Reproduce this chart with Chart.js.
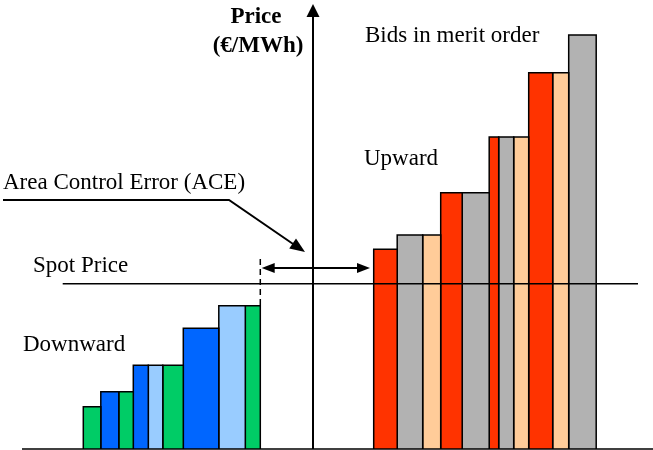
<!DOCTYPE html>
<html>
<head>
<meta charset="utf-8">
<script src="https://cdn.jsdelivr.net/npm/chart.js@4"></script>
<style>
  body { margin: 0; background: #fff; }
  #wrap { width: 653px; height: 450px; }
</style>
</head>
<body>
<div id="wrap"><canvas id="grafico"></canvas></div>
<script>
// Dados - lances (largura = volume, altura = preço), da esquerda para a direita
const downVolumes = [17.5, 18, 14.5, 15, 14.5, 20.5, 35.5, 26.5, 15];
const downPrices = [42.3, 57.3, 57.3, 83.7, 83.7, 83.7, 120.7, 143.3, 143.3];
const upVolumes = [23.5, 25.5, 18, 21.5, 27, 9.5, 15, 15, 24, 16, 27.5];
const upPrices = [199.7, 214, 214, 256.3, 256.3, 312, 312, 312, 376.3, 376.3, 414];
const spotPrice = 165.3;
const downEnd = -52.7;   // fim dos lances "Downward" (linha tracejada)
const upStart = 60.7;    // início dos lances "Upward"

// cores
const downColors = ['#00CC66', '#0066FF', '#00CC66', '#0066FF', '#99CCFF', '#00CC66', '#0066FF', '#99CCFF', '#00CC66'];
const upColors = ['#FF3300', '#B2B2B2', '#FFCC99', '#FF3300', '#B2B2B2', '#FF3300', '#B2B2B2', '#FFCC99', '#FF3300', '#FFCC99', '#B2B2B2'];

// monta um retangulo (barra) como poligono sobre as escalas
function barra(x0, largura, preco, cor) {
  return {
    data: [{ x: x0, y: 0 }, { x: x0, y: preco }, { x: x0 + largura, y: preco }, { x: x0 + largura, y: 0 }],
    backgroundColor: cor,
    borderColor: '#000',
    borderWidth: 1.5,
    fill: 'origin',
    pointRadius: 0,
    tension: 0,
    order: 2
  };
}

let datasets = [];

let totalDown = downVolumes.reduce((a, b) => a + b, 0);
let pos = downEnd - totalDown;
for (var i = 0; i < downVolumes.length; i++) {
  datasets.push(barra(pos, downVolumes[i], downPrices[i], downColors[i]));
  pos += downVolumes[i];
}
pos = upStart;
for (var j = 0; j < upVolumes.length; j++) {
  datasets.push(barra(pos, upVolumes[j], upPrices[j], upColors[j]));
  pos += upVolumes[j];
}

function linha(pontos, largura, tracejado) {
  return {
    data: pontos,
    borderColor: '#000',
    borderWidth: largura,
    borderDash: tracejado || [],
    fill: false,
    pointRadius: 0,
    tension: 0,
    order: 1
  };
}

// linha do preço spot, eixo base, eixo de preço e linha tracejada
datasets.push(linha([{ x: -250.3, y: spotPrice }, { x: 325, y: spotPrice }], 1.5));
datasets.push(linha([{ x: -291, y: 0 }, { x: 340, y: 0 }], 1.5));
datasets.push(linha([{ x: 0, y: 0 }, { x: 0, y: 437 }], 2));
datasets.push(linha([{ x: downEnd, y: 144 }, { x: downEnd, y: 194 }], 1.5, [6, 4]));

function seta(ctx, x, y, ang, comp, meia) {
  ctx.save();
  ctx.translate(x, y);
  ctx.rotate(ang);
  ctx.beginPath();
  ctx.moveTo(0, 0);
  ctx.lineTo(-comp, -meia);
  ctx.lineTo(-comp, meia);
  ctx.closePath();
  ctx.fill();
  ctx.restore();
}

const anotacoes = {
  id: 'anotacoes',
  afterDraw(chart) {
    const ctx = chart.ctx;
    const sx = chart.scales.x, sy = chart.scales.y;
    ctx.save();
    ctx.fillStyle = '#000';
    ctx.strokeStyle = '#000';

    // ponta do eixo de preço
    seta(ctx, sx.getPixelForValue(0), sy.getPixelForValue(445), -Math.PI / 2, 13, 6.5);

    // seta dupla do ACE
    let ya = sy.getPixelForValue(181);
    let xa = sx.getPixelForValue(-51.3), xb = sx.getPixelForValue(57);
    ctx.lineWidth = 2;
    ctx.beginPath();
    ctx.moveTo(xa + 10, ya);
    ctx.lineTo(xb - 10, ya);
    ctx.stroke();
    seta(ctx, xa, ya, Math.PI, 13, 5);
    seta(ctx, xb, ya, 0, 13, 5);

    // indicador "Area Control Error"
    ctx.lineWidth = 2;
    ctx.beginPath();
    ctx.moveTo(3, 200);
    ctx.lineTo(229, 200);
    ctx.lineTo(296, 246);
    ctx.stroke();
    seta(ctx, 305, 252, Math.atan2(52, 76), 15, 6);

    // textos
    ctx.textBaseline = 'alphabetic';
    ctx.font = 'bold 23px "Liberation Serif", "Times New Roman", serif';
    ctx.textAlign = 'center';
    ctx.fillText('Price', 256, 23);
    ctx.fillText('(€/MWh)', 258, 52);

    ctx.font = '23px "Liberation Serif", "Times New Roman", serif';
    ctx.textAlign = 'left';
    ctx.fillText('Bids in merit order', 365, 42);
    ctx.fillText('Upward', 364, 165);
    ctx.fillText('Area Control Error (ACE)', 3, 189);
    ctx.fillText('Spot Price', 33, 272);
    ctx.fillText('Downward', 23, 351);
    ctx.restore();
  }
};

const config = {
  type: 'line',
  data: { datasets: datasets },
  options: {
    responsive: true,
    maintainAspectRatio: false,
    animation: false,
    layout: { padding: 0 },
    plugins: { legend: { display: false }, tooltip: { enabled: false } },
    scales: {
      x: { type: 'linear', min: -313, max: 340, display: false },
      y: { type: 'linear', min: -1, max: 449, display: false }
    }
  },
  plugins: [anotacoes]
};

let myChart = new Chart(document.getElementById('grafico'), config);
</script>
</body>
</html>
